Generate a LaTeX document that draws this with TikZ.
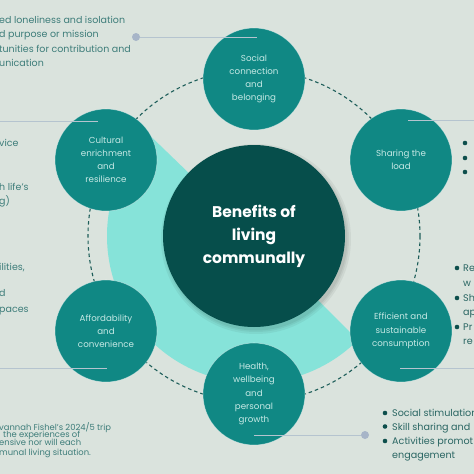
\documentclass[tikz,border=0pt]{standalone}
\usepackage{fontspec}
\setmainfont{Poppins}
\definecolor{bg}{HTML}{DAE3DD}
\definecolor{band}{HTML}{86E3D9}
\definecolor{bubblec}{HTML}{108884}
\definecolor{hubc}{HTML}{064E4B}
\definecolor{bubtext}{HTML}{C6E9E5}
\definecolor{sidetext}{HTML}{3E7D7A}
\definecolor{bultext}{HTML}{2A6663}
\definecolor{bulletc}{HTML}{0D4F4C}
\definecolor{ringc}{HTML}{1E5E5A}
\definecolor{connc}{HTML}{B5C4CF}
\definecolor{dotc}{HTML}{A7B5C8}
\tikzset{
  bubble/.style={circle, fill=bubblec, draw=white, draw opacity=0.45, line width=0.6pt,
    minimum size=102pt, inner sep=0pt, text=bubtext, align=center,
    font=\fontsize{8.7}{13.2}\selectfont},
  hub/.style={circle, fill=hubc, minimum size=182pt, inner sep=0pt, text=white, align=center,
    font=\fontsize{15.5}{23}\selectfont\bfseries},
  ring/.style={draw=ringc, line width=1.1pt, dash pattern=on 3.5pt off 3pt},
  conn/.style={draw=connc, line width=0.8pt},
  dotn/.style={circle, fill=dotc, minimum size=8pt, inner sep=0pt},
  side/.style={anchor=base west, inner sep=0pt, text=sidetext, font=\fontsize{9.5}{10}\selectfont},
  note/.style={anchor=base west, inner sep=0pt, text=sidetext, font=\fontsize{8.4}{9}\selectfont},
  bul/.style={anchor=base west, inner sep=0pt, text=bultext, font=\fontsize{9.6}{10}\selectfont},
  bdot/.style={circle, fill=bulletc, minimum size=4.6pt, inner sep=0pt}
}
\begin{document}
\begin{tikzpicture}[x=1pt,y=-1pt]
\useasboundingbox (0,0) rectangle (474,474);
\fill[bg] (0,0) rectangle (474,474);
% light band (half disk)
\fill[band] (254,236) -- ++(-136:147) arc[start angle=-136, end angle=-315, radius=147] -- cycle;
% dashed ring
\draw[ring] (254,236) circle[radius=166];
% hub shadow
\foreach \o/\r in {0.05/95,0.05/93,0.06/91.5}{
  \fill[black, opacity=\o] (256,239) circle[radius=\r];
}
\node[hub] (hub) at (254,236) {Benefits of\\living\\communally};
% bubbles
\node[bubble] (social) at (254,79) {Social\\connection\\and\\belonging};
\node[bubble] (sharing) at (401,160) {Sharing the\\load};
\node[bubble] (efficient) at (401,331) {Efficient and\\sustainable\\consumption};
\node[bubble] (health) at (254,394) {Health,\\wellbeing\\and\\personal\\growth};
\node[bubble] (afford) at (106,331) {Affordability\\and\\convenience};
\node[bubble] (cultural) at (106,160) {Cultural\\enrichment\\and\\resilience};
% connectors
\node[dotn] (d1) at (136,37) {};
\coordinate (c1) at (257,37);
\draw[conn] (d1) -- (c1);
\coordinate (c2a) at (0,121); \coordinate (c2b) at (98,121);
\draw[conn] (c2a) -- (c2b);
\coordinate (c3a) at (0,368); \coordinate (c3b) at (107,368);
\draw[conn] (c3a) -- (c3b);
\coordinate (c4a) at (408,120); \coordinate (c4b) at (474,120);
\draw[conn] (c4a) -- (c4b);
\coordinate (c5a) at (400,368); \coordinate (c5b) at (474,368);
\draw[conn] (c5a) -- (c5b);
\node[dotn] (d6) at (365,435) {};
\coordinate (c6) at (254,435);
\draw[conn] (c6) -- (d6);
% left texts
\node[side] (t1) at (-1,23) {ed loneliness and isolation};
\node[side] (t2) at (-1,37.5) {d purpose or mission};
\node[side] (t3) at (-1,52) {tunities for contribution and};
\node[side] (t4) at (-1,66.5) {unication};
\node[side] (t5) at (-1,146) {vice};
\node[side] (t6) at (-1,190) {h life's};
\node[side] (t7) at (-1,204) {g)};
\node[side] (t8) at (-1,270) {ilities,};
\node[side] (t9) at (-1,296) {d};
\node[side] (t10) at (-1,312) {paces};
% note
\node[note] (n1) at (-1,430) {vannah Fishel's 2024/5 trip};
\node[note] (n2) at (3,437.5) {the experiences of};
\node[note] (n3) at (-1,445) {ensive nor will each};
\node[note] (n4) at (-1,455.5) {munal living situation.};
% sharing bullets
\node[bdot] (s1) at (465,143) {};
\node[bdot] (s2) at (465,158) {};
\node[bdot] (s3) at (465,172) {};
% efficient bullets
\node[bdot] (e1) at (457,268) {};
\node[bdot] (e2) at (457,298) {};
\node[bdot] (e3) at (457,327) {};
\node[bul] (et1) at (463,271.5) {Re};
\node[bul] (et2) at (463,286) {w};
\node[bul] (et3) at (463,301) {Sh};
\node[bul] (et4) at (463,315) {ap};
\node[bul] (et5) at (463,330) {Pr};
\node[bul] (et6) at (463,344) {re};
% health bullets
\node[bdot] (h1) at (385,413) {};
\node[bdot] (h2) at (385,426.5) {};
\node[bdot] (h3) at (385,441) {};
\node[bul] (ht1) at (392,416.5) {Social stimulation};
\node[bul] (ht2) at (392,430) {Skill sharing and};
\node[bul] (ht3) at (392,444.5) {Activities promot};
\node[bul] (ht4) at (392,458.5) {engagement};
\end{tikzpicture}
\end{document}
